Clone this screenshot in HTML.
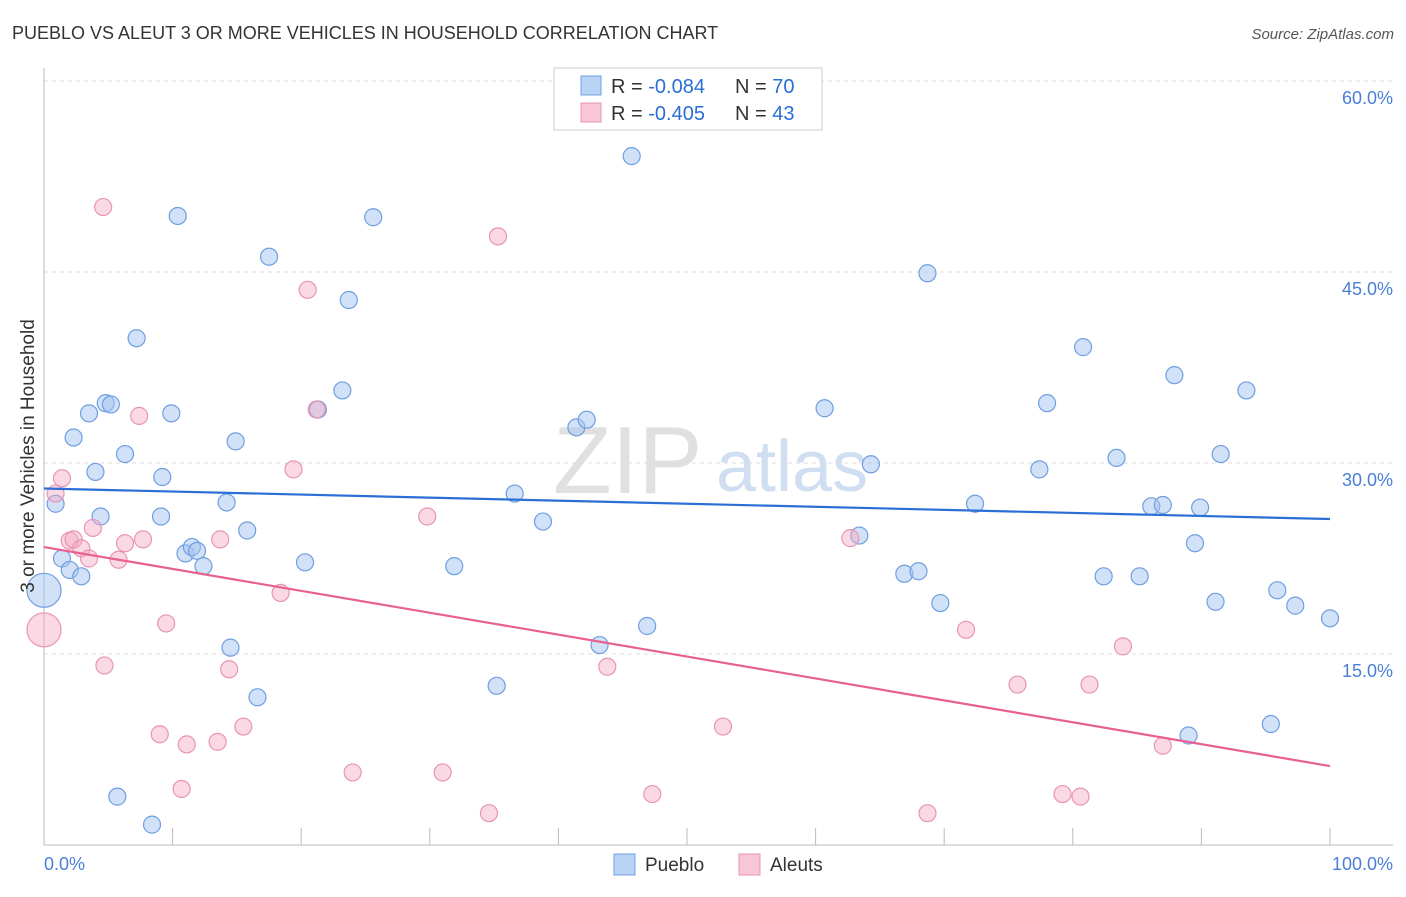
<!DOCTYPE html>
<html><head><meta charset="utf-8"><style>
body{margin:0;background:#fff;font-family:"Liberation Sans",sans-serif;}
svg text{font-family:"Liberation Sans",sans-serif;}
</style></head><body>
<svg id="chart" width="1406" height="892" xmlns="http://www.w3.org/2000/svg">
<text x="12" y="39" font-size="18" fill="#333">PUEBLO VS ALEUT 3 OR MORE VEHICLES IN HOUSEHOLD CORRELATION CHART</text>
<text x="1394" y="39" font-size="15" fill="#555" text-anchor="end" font-style="italic">Source: ZipAtlas.com</text>
<g>
<text x="553" y="493" font-size="96" fill="#d9d9d9" font-family="Liberation Serif" opacity="0.8">ZIP</text>
<text x="716" y="491" font-size="72" fill="#c5d7f0" opacity="0.8">atlas</text>
</g>
<g id="grid"></g>
<g id="axes"></g>
<g id="points"></g>
<g id="trends"></g>
<text transform="translate(34,456) rotate(-90)" font-size="19" fill="#333" text-anchor="middle">3 or more Vehicles in Household</text>
<text x="44" y="870" font-size="18" fill="#4a7fd6">0.0%</text>
<text x="1393" y="870" font-size="18" fill="#4a7fd6" text-anchor="end">100.0%</text>
<g>
<rect x="554" y="68" width="268" height="62" fill="#fff" stroke="#ccc"/>
<rect x="581" y="76" width="20" height="19" fill="#b9d3f5" stroke="#6f9fe0"/>
<rect x="581" y="103" width="20" height="19" fill="#f8c6d6" stroke="#e895b3"/>
<text x="611" y="93" font-size="20" fill="#333">R = <tspan fill="#2a6fd6">-0.084</tspan></text>
<text x="735" y="93" font-size="20" fill="#333">N = <tspan fill="#2a6fd6">70</tspan></text>
<text x="611" y="120" font-size="20" fill="#333">R = <tspan fill="#2a6fd6">-0.405</tspan></text>
<text x="735" y="120" font-size="20" fill="#333">N = <tspan fill="#2a6fd6">43</tspan></text>
</g>
<g>
<rect x="614" y="854" width="21" height="21" fill="#b9d3f5" stroke="#6f9fe0"/>
<text x="645" y="871" font-size="19" fill="#333">Pueblo</text>
<rect x="739" y="854" width="21" height="21" fill="#f8c6d6" stroke="#e895b3"/>
<text x="770" y="871" font-size="19" fill="#333">Aleuts</text>
</g>
</svg>
<script>
const yTicks=[15,30,45,60];
const yTickLabels=["15.0%","30.0%","45.0%","60.0%"];
const xTicks=[10,20,30,40,50,60,70,80,90,100];
const blueX=[0,0.9,1.4,2.0,2.9,2.3,3.5,4.0,4.4,4.8,5.2,6.3,7.2,9.2,9.1,9.9,10.4,11.0,11.5,11.9,12.4,14.2,14.9,15.8,14.5,16.6,17.5,20.3,21.3,23.2,23.7,25.6,5.7,8.4,31.9,35.2,36.6,38.8,41.4,42.2,43.2,45.7,46.9,60.7,63.4,64.3,66.9,68.0,68.7,69.7,72.4,77.4,78.0,80.8,82.4,83.4,85.2,86.1,87.0,87.9,89.5,89.9,91.1,91.5,93.5,95.9,97.3,100,95.4,89.0];
const blueY=[20.0,26.8,22.5,21.6,21.1,32.0,33.9,29.3,25.8,34.7,34.6,30.7,39.8,28.9,25.8,33.9,49.4,22.9,23.4,23.1,21.9,26.9,31.7,24.7,15.5,11.6,46.2,22.2,34.2,35.7,42.8,49.3,3.8,1.6,21.9,12.5,27.6,25.4,32.8,33.4,15.7,54.1,17.2,34.3,24.3,29.9,21.3,21.5,44.9,19.0,26.8,29.5,34.7,39.1,21.1,30.4,21.1,26.6,26.7,36.9,23.7,26.5,19.1,30.7,35.7,20.0,18.8,17.8,9.5,8.6];
const pinkX=[0,0.9,1.4,2.0,2.3,2.9,3.5,3.8,4.6,4.7,5.8,6.3,7.4,7.7,9.0,9.5,10.7,11.1,13.5,13.7,14.4,15.5,18.4,19.4,20.5,21.2,24.0,29.8,31.0,34.6,35.3,43.8,47.3,52.8,62.7,68.7,71.7,75.7,79.2,80.6,81.3,83.9,87.0];
const pinkY=[16.9,27.6,28.8,23.9,24.0,23.3,22.5,24.9,50.1,14.1,22.4,23.7,33.7,24.0,8.7,17.4,4.4,7.9,8.1,24.0,13.8,9.3,19.8,29.5,43.6,34.2,5.7,25.8,5.7,2.5,47.8,14.0,4.0,9.3,24.1,2.5,16.9,12.6,4.0,3.8,12.6,15.6,7.8];
const blueTrend=[28.0,25.6];
const pinkTrend=[23.4,6.2];
const NS="http://www.w3.org/2000/svg";
const X0=44,X1=1330,Y0=845,Y60=81;
const sx=v=>X0+(X1-X0)*v/100;
const sy=v=>Y0-(Y0-Y60)*v/60;
function mk(tag,attrs,parent){const e=document.createElementNS(NS,tag);for(const k in attrs)e.setAttribute(k,attrs[k]);document.getElementById(parent).appendChild(e);return e;}
yTicks.forEach((t,i)=>{
 const l=mk('line',{x1:X0,x2:1393,y1:sy(t),y2:sy(t),stroke:'#ddd','stroke-dasharray':'4,4'},'grid');
 
 
 const tx=mk('text',{x:1393,y:sy(t)+23,'font-size':18,fill:'#4a7fd6','text-anchor':'end'},'grid');
 tx.textContent=yTickLabels[i];
 
 
});
const ax=mk('line',{x1:X0,x2:X0,y1:68,y2:Y0,stroke:'#bbb'},'axes');


const bx=mk('line',{x1:X0,x2:1393,y1:Y0,y2:Y0,stroke:'#bbb'},'axes');


xTicks.forEach(t=>{
 const l=mk('line',{x1:sx(t),x2:sx(t),y1:828,y2:Y0,stroke:'#bbb'},'axes');
 
 
});
function pts(xs,ys,fill,stroke,name){
 xs.forEach((x,i)=>{
  const r=(x===0&&i===0)?17:8.5;
  const c=mk('circle',{cx:sx(x),cy:sy(ys[i]),r:r,fill:fill,stroke:stroke,'stroke-width':1.2},'points');
  
  
 });
}
pts(blueX,blueY,'rgba(164,196,240,0.5)','#6f9fe0','pueblo-point');
pts(pinkX,pinkY,'rgba(244,170,195,0.45)','#e895b3','aleuts-point');
const bl=mk('line',{x1:sx(0),x2:sx(100),y1:sy(blueTrend[0]),y2:sy(blueTrend[1]),stroke:'#2a6fd6','stroke-width':2.2},'trends');


const pl=mk('line',{x1:sx(0),x2:sx(100),y1:sy(pinkTrend[0]),y2:sy(pinkTrend[1]),stroke:'#e8608f','stroke-width':2.2},'trends');


</script>
</body></html>
